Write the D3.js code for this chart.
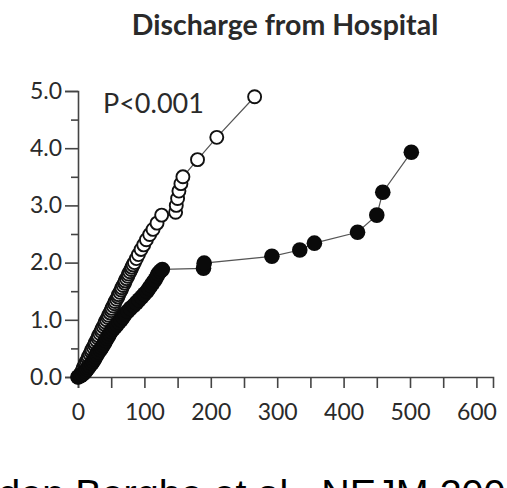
<!DOCTYPE html>
<html><head><meta charset="utf-8">
<script src="https://cdn.jsdelivr.net/npm/d3@7"></script>
<style>
html,body{margin:0;padding:0;background:#fff;overflow:hidden}
svg{display:block}
</style></head>
<body>
<svg id="c" width="507" height="488"></svg>
<script>
// ---- data ----
const title = "Discharge from Hospital";
const pText = "P<0.001";
const citation = "Van den Berghe et al., NEJM 2006";
const xTickValues = [0,50,100,150,200,250,300,350,400,450,500,550,600];
const xTickLabels = ["0","","100","","200","","300","","400","","500","","600"];
const yTickValues = [0,0.5,1,1.5,2,2.5,3,3.5,4,4.5,5];
const yTickLabels = ["0.0","","1.0","","2.0","","3.0","","4.0","","5.0"];

// open circles (days, cumulative hazard)
const openDays = [0,3,5,7,8,10,11,13,15,16,18,20,21,23,25,26,28,30,31,33,35,36,38,40,41,43,45,46,48,50,51,53,55,56,58,60,61,63,65,66,68,70,71,73,75,76,78,80,81,83,85,88,91,95,99,103,108,113,119,126,147,148,150,152,155,158,180,209,266];
const openHaz  = [0,0.04,0.08,0.12,0.16,0.2,0.24,0.28,0.32,0.36,0.4,0.44,0.48,0.52,0.56,0.6,0.64,0.68,0.72,0.76,0.8,0.84,0.88,0.92,0.96,1.0,1.04,1.08,1.12,1.16,1.2,1.24,1.28,1.32,1.36,1.4,1.44,1.48,1.52,1.56,1.6,1.64,1.68,1.72,1.76,1.8,1.84,1.88,1.92,1.96,2.0,2.07,2.14,2.23,2.31,2.4,2.49,2.58,2.69,2.83,2.88,3.0,3.12,3.25,3.38,3.5,3.8,4.19,4.9];
// filled circles (days, cumulative hazard)
const filledDays = [0,4,7,10,12,14,16,18,21,23,25,27,29,31,34,36,38,40,42,44,46,48,50,53,56,59,62,65,68,71,75,79,84,88,92,96,100,104,107,110,113,116,119,121,124,127,189,190,292,334,356,421,450,459,502];
const filledHaz  = [0,0.02,0.05,0.08,0.11,0.14,0.17,0.2,0.24,0.28,0.32,0.36,0.4,0.44,0.48,0.52,0.56,0.6,0.64,0.68,0.72,0.76,0.8,0.84,0.88,0.92,0.96,1.0,1.05,1.1,1.15,1.2,1.25,1.3,1.35,1.4,1.45,1.5,1.55,1.6,1.65,1.7,1.76,1.81,1.85,1.88,1.9,1.99,2.11,2.22,2.34,2.53,2.83,3.23,3.93];

const openPts = openDays.map((d,i)=>({x:d,y:openHaz[i]}));
const filledPts = filledDays.map((d,i)=>({x:d,y:filledHaz[i]}));

// ---- drawing ----
const svg = d3.select("#c");
const x = d3.scaleLinear().domain([0,625]).range([78,493]);
const y = d3.scaleLinear().domain([0,5]).range([377,91]);
const axisColor = "#444";
const textColor = "#2a2a2a";
const tickFont = "Lato, 'Open Sans', sans-serif";

svg.append("text")
  .attr("x",285).attr("y",35)
  .attr("text-anchor","middle")
  .style("font-family",tickFont).style("font-weight","bold")
  .style("font-size","28.5px").style("fill",textColor)
  .text(title);

// y axis
const yAxis = d3.axisLeft(y).tickValues(yTickValues)
  .tickFormat((d,i)=>yTickLabels[i]).tickSizeOuter(0).tickSize(13).tickPadding(3);
const gy = svg.append("g").attr("transform","translate(78,0)").call(yAxis);
gy.selectAll(".tick line").attr("x2",(d,i)=> yTickLabels[i]==="" ? -7 : -13);
// x axis
const xAxis = d3.axisBottom(x).tickValues(xTickValues)
  .tickFormat((d,i)=>xTickLabels[i]).tickSizeOuter(0).tickSize(11).tickPadding(16);
const gx = svg.append("g").attr("transform","translate(0,377)").call(xAxis);

[gx,gy].forEach(g=>{
  g.select(".domain").attr("stroke",axisColor).attr("stroke-width",1.6);
  g.selectAll(".tick line").attr("stroke",axisColor).attr("stroke-width",1.6);
  g.selectAll(".tick text").style("font-family",tickFont).style("font-size","23px").style("fill",textColor);
});

svg.append("text").attr("x",103).attr("y",113)
  .style("font-family",tickFont).style("font-size","27px").style("fill",textColor)
  .text(pText);

const line = d3.line().x(d=>x(d.x)).y(d=>y(d.y));
svg.append("path").datum(openPts).attr("d",line).attr("fill","none").attr("stroke","#555").attr("stroke-width",1.2);
svg.append("path").datum(filledPts).attr("d",line).attr("fill","none").attr("stroke","#555").attr("stroke-width",1.2);

svg.append("g").selectAll("circle").data(openPts).join("circle")
  .attr("cx",d=>x(d.x)).attr("cy",d=>y(d.y)).attr("r",6.5)
  .attr("fill","#fff").attr("stroke","#111").attr("stroke-width",1.9);
svg.append("g").selectAll("circle").data(filledPts).join("circle")
  .attr("cx",d=>x(d.x)).attr("cy",d=>y(d.y)).attr("r",7.8)
  .attr("fill","#0a0a0a");

svg.append("text").attr("x",-80).attr("y",507)
  .style("font-family","'Liberation Sans', Arial, sans-serif").style("font-size","39.5px").style("fill","#000")
  .text(citation);
</script>
</body></html>
